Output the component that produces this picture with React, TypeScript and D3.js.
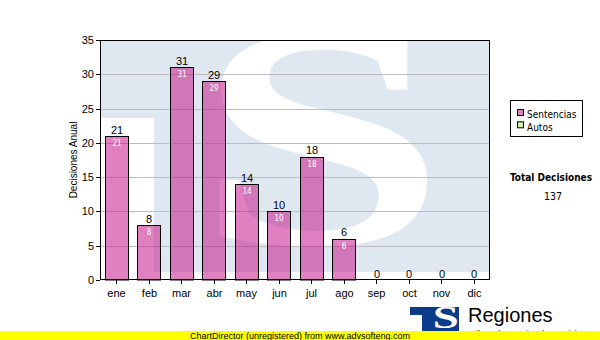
import React, { useLayoutEffect, useState } from 'react';
import * as d3 from 'd3';

const months = ['ene', 'feb', 'mar', 'abr', 'may', 'jun', 'jul', 'ago', 'sep', 'oct', 'nov', 'dic'];
const sentencias = [21, 8, 31, 29, 14, 10, 18, 6, 0, 0, 0, 0];
const yTicks = [0, 5, 10, 15, 20, 25, 30, 35];
const legendNames = ['Sentencias', 'Autos'];
const legendColors = ['#e080c0', '#d6efa0'];
const yTitle = 'Decisiones Anual';
const totalTitle = 'Total Decisiones';
const footer = 'ChartDirector (unregistered) from www.advsofteng.com';

const W = 600, H = 340;
const L = 100, R = 490, T = 40, B = 280;
const SANS = 'Liberation Sans, Arial, sans-serif';
const TAHOMA = 'DejaVu Sans Condensed, DejaVu Sans, sans-serif';
const SERIF_CSS = '"Liberation Serif", "Times New Roman", serif';

// target ink boxes for the watermark S and the logo S: [x0, y0, x1, y1]
const bigS = [218, 34, 430, 250];
const smallS = [435, 308, 457, 329];

function FitS({ box }: { box: number[] }) {
  const [tf, setTf] = useState<string | null>(null);
  useLayoutEffect(() => {
    const fs = 100;
    const cv = document.createElement('canvas');
    const ctx = cv.getContext('2d')!;
    ctx.font = `bold ${fs}px ${SERIF_CSS}`;
    const m = ctx.measureText('S');
    const left = -m.actualBoundingBoxLeft;
    const right = m.actualBoundingBoxRight;
    const top = -m.actualBoundingBoxAscent;
    const bot = m.actualBoundingBoxDescent;
    const sx = (box[2] - box[0]) / (right - left);
    const sy = (box[3] - box[1]) / (bot - top);
    const tx = box[0] - left * sx;
    const ty = box[1] - top * sy;
    setTf(`translate(${tx},${ty}) scale(${sx},${sy})`);
  }, []);
  if (!tf) return null;
  return (
    <text transform={tf} fontFamily={SERIF_CSS} fontWeight="bold" fontSize={100} fill="#fff">S</text>
  );
}

export default function App() {
  const x = d3.scaleBand<string>().domain(months).range([L, R]).paddingInner(0.28).paddingOuter(0.14);
  const y = d3.scaleLinear().domain([0, 35]).range([B, T]);
  const bw = Math.round(x.bandwidth());
  const total = d3.sum(sentencias);

  return (
    <svg width={W} height={H} style={{ position: 'absolute', left: 0, top: 0, background: '#fff' }}>
      <defs>
        <clipPath id="plotclip">
          <rect x={L} y={T} width={R - L} height={B - T} />
        </clipPath>
        <clipPath id="logoclip">
          <rect x={433} y={306} width={27} height={30} />
        </clipPath>
      </defs>
      <rect x={0} y={0} width={W} height={H} fill="#fff" />
      {/* watermark */}
      <g clipPath="url(#plotclip)">
        <rect x={L} y={T} width={R - L} height={B - T} fill="#dfe8f1" />
        <rect x={L} y={118} width={54} height={B - 118} fill="#fff" />
        <rect x={L} y={272} width={R - L} height={10} fill="#fff" />
        <FitS box={bigS} />
      </g>
      {/* grid */}
      {yTicks.filter(t => t > 0 && t < 35).map(t => (
        <line key={t} x1={L} x2={R} y1={Math.round(y(t)) + 0.5} y2={Math.round(y(t)) + 0.5} stroke="#bcbcbc" strokeWidth={1} />
      ))}
      {/* bars */}
      {sentencias.map((v, i) => {
        const m = months[i];
        const x0 = Math.round(x(m)!) + 0.5;
        const y0 = Math.round(y(v)) + 0.5;
        const cx = x0 + bw / 2;
        return (
          <g key={m}>
            {v > 0 && (
              <rect x={x0} y={y0} width={bw} height={B - y0} fill="rgba(200,28,142,0.56)" stroke="#000" strokeWidth={1} />
            )}
            <text x={cx} y={y(v) - 2.5} textAnchor="middle" fontFamily={SANS} fontSize={11} fill="#000">{v}</text>
            {v > 0 && (
              <text x={cx} y={y(v) + 10} textAnchor="middle" fontFamily={TAHOMA} fontSize={8} fill="#fff">{v}</text>
            )}
          </g>
        );
      })}
      {/* plot border */}
      <rect x={L + 0.5} y={T + 0.5} width={R - L - 1} height={B - T - 1} fill="none" stroke="#000" strokeWidth={1} />
      {/* y axis */}
      {yTicks.map(t => (
        <g key={t}>
          <line x1={L - 4} x2={L} y1={Math.round(y(t)) + 0.5} y2={Math.round(y(t)) + 0.5} stroke="#000" />
          <text x={L - 6} y={y(t) + 4} textAnchor="end" fontFamily={SANS} fontSize={11} fill="#000">{t}</text>
        </g>
      ))}
      {/* x axis */}
      {months.map(m => {
        const cx = Math.round(x(m)! + x.bandwidth() / 2) + 0.5;
        return (
          <g key={m}>
            <line x1={cx} x2={cx} y1={B} y2={B + 4} stroke="#000" />
            <text x={cx} y={296.5} textAnchor="middle" fontFamily={SANS} fontSize={11} fill="#000">{m}</text>
          </g>
        );
      })}
      <text transform={`translate(77,160) rotate(-90)`} textAnchor="middle" fontFamily={SANS} fontSize={10} fill="#000">{yTitle}</text>
      {/* legend */}
      <rect x={510.5} y={100.5} width={72} height={36} fill="#fff" stroke="#000" />
      {legendNames.map((n, i) => (
        <g key={n}>
          <rect x={517.5} y={109.5 + i * 12.3} width={6} height={6} fill={legendColors[i]} stroke="#000" />
          <text x={527} y={118.3 + i * 12.3} fontFamily={TAHOMA} fontSize={10} fill="#000">{n}</text>
        </g>
      ))}
      <text x={551} y={180.5} textAnchor="middle" fontFamily={TAHOMA} fontWeight="bold" fontSize={10} fill="#000">{totalTitle}</text>
      <text x={553} y={200} textAnchor="middle" fontFamily={TAHOMA} fontSize={10.5} fill="#000">{total}</text>
      {/* logo */}
      <path d="M410,307 H459 V340 H422 V315 H410 Z" fill="#0d3b8c" />
      <g clipPath="url(#logoclip)">
        <FitS box={smallS} />
      </g>
      <text x={468} y={322} fontFamily={SANS} fontSize={20} fill="#000">Regiones</text>
      <text x={468} y={337} fontFamily={SANS} fontSize={9} fill="#000">Tribunal Superior de Justicia</text>
      {/* footer */}
      <rect x={0} y={331} width={W} height={9} fill="#ffff00" />
      <text x={300} y={338.5} textAnchor="middle" fontFamily={SANS} fontSize={9} fill="#000">{footer}</text>
    </svg>
  );
}
